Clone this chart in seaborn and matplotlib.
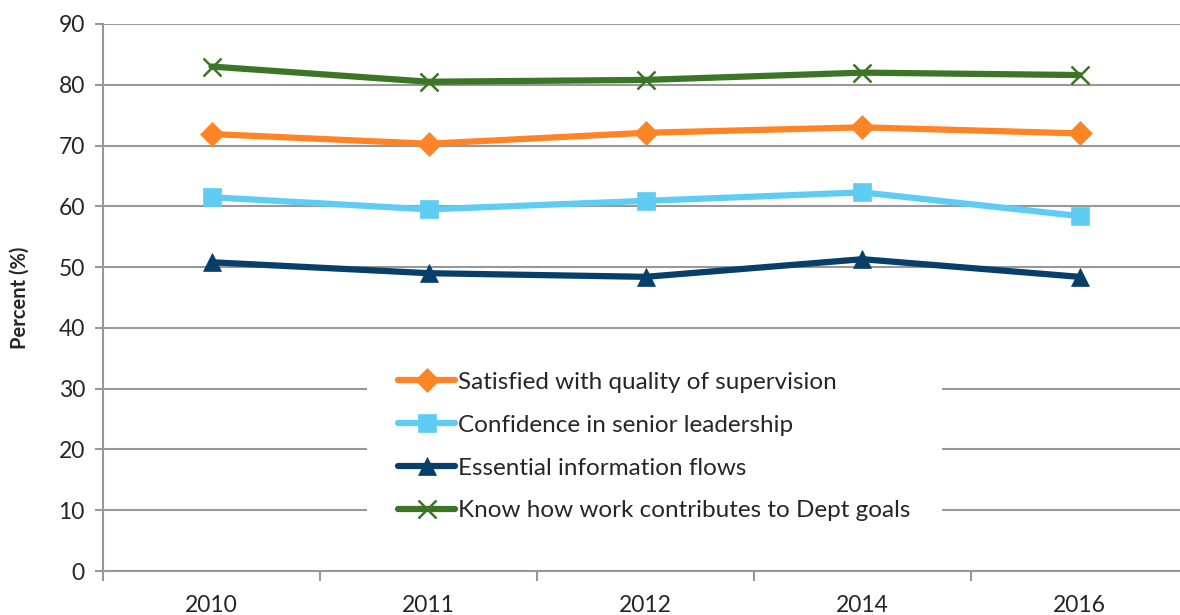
import numpy as np
import pandas as pd
import matplotlib
matplotlib.use("Agg")
import matplotlib.pyplot as plt
import seaborn as sns

# Values
years = ["2010", "2011", "2012", "2014", "2016"]
series_names = [
    "Satisfied with quality of supervision",
    "Confidence in senior leadership",
    "Essential information flows",
    "Know how work contributes to Dept goals",
]
supervision = [71.9, 70.3, 72.1, 73.0, 72.0]
leadership = [61.5, 59.5, 60.9, 62.3, 58.4]
info_flows = [50.8, 49.0, 48.4, 51.3, 48.4]
dept_goals = [83.0, 80.5, 80.8, 82.0, 81.6]

colors = ["#FF8426", "#5FCDF3", "#073F6A", "#3D7526"]
markers = ["D", "s", "^", "x"]

rows = []
for name, vals in zip(series_names, [supervision, leadership, info_flows, dept_goals]):
    for i, (yr, v) in enumerate(zip(years, vals)):
        rows.append({"pos": i, "year": yr, "value": v, "series": name})
df = pd.DataFrame(rows)

sns.set_style("white")
plt.rcParams["font.family"] = ["Lato", "DejaVu Sans"]

fig = plt.figure(figsize=(11.8, 6.15), dpi=100)
ax = fig.add_axes([103 / 1180, 44 / 615, 1085 / 1180, 547 / 615])

# seaborn won't mix filled and line-art markers, so use a filled stand-in and swap after
sns.lineplot(
    data=df, x="pos", y="value", hue="series", style="series",
    hue_order=series_names, style_order=series_names,
    palette=dict(zip(series_names, colors)),
    markers=dict(zip(series_names, ["D", "s", "^", "X"])), dashes=False,
    linewidth=4.5, markersize=13, legend=False, ax=ax, zorder=3,
)
for line, c, m in zip(ax.lines, colors, markers):
    line.set_marker(m)
    line.set_markeredgecolor(c)
    line.set_markerfacecolor(c)
    line.set_markeredgewidth(1.8 if m == "x" else 0.5)
    if m == "D":
        line.set_markersize(12)

ax.set_xlim(-0.5, len(years) - 0.5)
ax.set_ylim(0, 90)
ax.set_yticks(np.arange(0, 91, 10))
ax.grid(axis="y", color="#989898", linewidth=1.5)
ax.set_axisbelow(True)

# category boundaries as ticks, labels centred between them
ax.set_xticks(np.arange(-0.5, len(years), 1.0))
ax.set_xticklabels([])
ax.set_xticks(np.arange(len(years)), minor=True)
ax.set_xticklabels(years, minor=True, fontsize=16.5)
ax.tick_params(axis="x", which="major", direction="out", length=7, width=1.5, color="#989898", bottom=True)
ax.tick_params(axis="x", which="minor", length=0, pad=17)
ax.tick_params(axis="y", direction="out", length=6, width=1.5, color="#989898", left=True, labelsize=16.5, pad=7)

for side in ["top", "right"]:
    ax.spines[side].set_visible(False)
for side in ["left", "bottom"]:
    ax.spines[side].set_color("#989898")
    ax.spines[side].set_linewidth(1.5)

ax.set_xlabel("")
ax.set_ylabel("Percent (%)", fontsize=14.5, fontweight="bold", labelpad=21)

leg = ax.legend(
    ax.lines[:4], series_names, loc="upper left", bbox_to_anchor=(0.243, 0.422),
    frameon=True, facecolor="white", edgecolor="none", framealpha=1, fancybox=False,
    fontsize=17.5, handlelength=2.35, handletextpad=0.12, labelspacing=0.9,
    borderpad=1.3, borderaxespad=0,
)
leg.set_zorder(5)

fig.savefig("out.png", dpi=100)
